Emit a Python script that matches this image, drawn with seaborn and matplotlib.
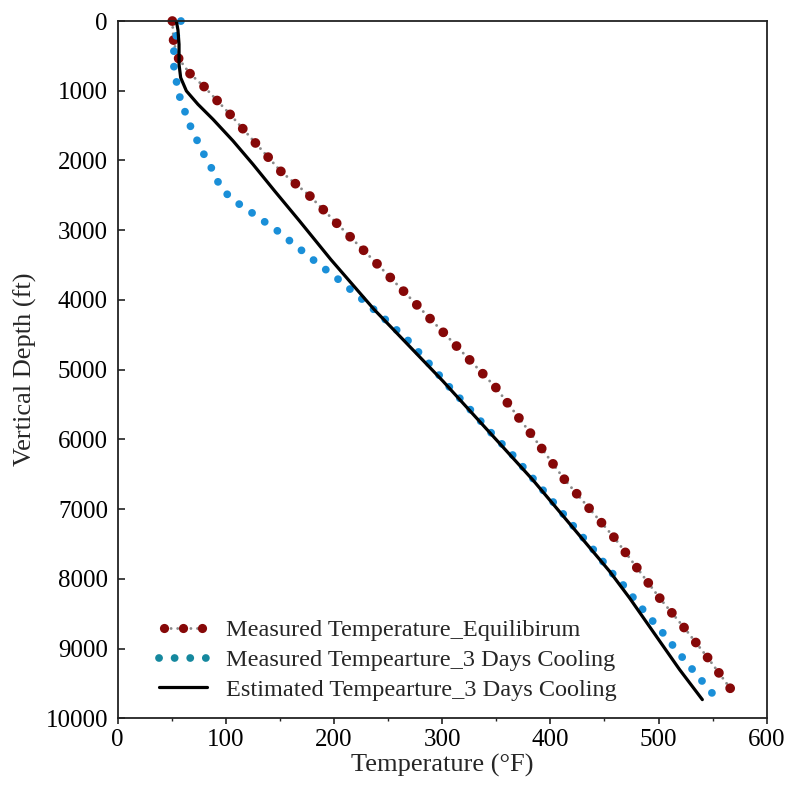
import matplotlib
matplotlib.use("Agg")
import matplotlib.pyplot as plt
import seaborn as sns
import numpy as np
import pandas as pd
from matplotlib.lines import Line2D
from matplotlib.legend_handler import HandlerLine2D

# ---------------- data ----------------
eq_depth = [0, 306, 540, 750, 940, 1337, 1752, 2159, 2500, 2884, 3472, 4064,
            4658, 5050, 5253, 5907, 6576, 7413, 7847, 8285, 8706, 9145, 9575]
eq_temp = [50.5, 51.8, 56.4, 66.5, 79.8, 103.8, 127.5, 151.0, 177.0, 201.4, 239.1, 276.1,
           313.0, 337.0, 349.4, 381.4, 413.1, 459.3, 480.3, 501.5, 524.0, 546.2, 566.5]

cool_depth = [0, 225, 449, 669, 883, 1103, 1313, 1519, 1719, 1924, 2116, 2316, 2488,
              2627, 2755, 2880, 3009, 3152, 3429, 3706, 3988, 4285, 4581, 4916, 5251,
              5577, 5906, 6227, 6566, 6901, 7241, 7580, 7929, 8082, 8441, 8776, 9135, 9640]
cool_temp = [58.5, 53.9, 51.8, 52.0, 54.5, 57.6, 62.5, 67.5, 73.6, 80.1, 86.9, 93.0, 101.4,
             112.4, 124.5, 135.9, 147.6, 159.0, 181.1, 204.0, 225.8, 247.7, 268.3, 288.1, 306.8,
             326.2, 345.3, 365.3, 384.2, 402.7, 421.2, 439.7, 457.8, 467.0, 485.5, 504.0, 522.5, 549.6]

est_depth = [0, 129, 334, 621, 812, 1003, 1195, 1410, 1719, 2054, 2436, 2866, 3420,
             4136, 5165, 5690, 6585, 7891, 8274, 8752, 9300, 9732]
est_temp = [54.2, 55.7, 56.7, 56.7, 58.2, 63.5, 74.2, 88.1, 106.6, 125.0, 145.0, 168.0, 197.0,
            237.0, 300.7, 331.5, 384.0, 454.7, 473.2, 494.7, 519.4, 540.5]

labels = ["Measured Temperature_Equilibirum",
          "Measured Tempearture_3 Days Cooling",
          "Estimated Tempearture_3 Days Cooling"]
x_ticks = [0, 100, 200, 300, 400, 500, 600]
y_ticks = [0, 1000, 2000, 3000, 4000, 5000, 6000, 7000, 8000, 9000, 10000]

# ---------------- style ----------------
sns.set_style("ticks")
plt.rcParams["font.family"] = ["Liberation Serif", "DejaVu Serif"]
plt.rcParams["mathtext.fontset"] = "stix"

RED = "#860808"
GRAY = "#8a8a8a"
BLUE = "#1a8fd8"
BLUE_LEG = "#15889e"
DPI = 100

fig = plt.figure(figsize=(7.9, 7.86), dpi=DPI)
ax = fig.add_axes([0.14899, 0.08613, 0.82152, 0.88715])

df_eq = pd.DataFrame({"T": eq_temp, "D": eq_depth})
df_cool = pd.DataFrame({"T": cool_temp, "D": cool_depth})
df_est = pd.DataFrame({"T": est_temp, "D": est_depth})

sns.lineplot(data=df_eq, x="T", y="D", sort=False, estimator=None, ax=ax, color=GRAY)
l_gray = ax.lines[-1]
sns.lineplot(data=df_eq, x="T", y="D", sort=False, estimator=None, ax=ax, color=RED)
l_red = ax.lines[-1]
sns.lineplot(data=df_cool, x="T", y="D", sort=False, estimator=None, ax=ax, color=BLUE)
l_blue = ax.lines[-1]
sns.lineplot(data=df_est, x="T", y="D", sort=False, estimator=None, ax=ax, color="black")
l_black = ax.lines[-1]

ax.set_xlim(0, 600)
ax.set_ylim(10000, 0)

# (linewidth pt, target dot spacing px)
styles = {
    "gray": (2.1, 6.4),
    "red": (7.0, 19.2),
    "blue": (5.6, 15.6),
}

def fitted_gap(line, lw, spacing):
    """dash gap (in linewidths) so that dots fall on both ends of the path"""
    pts = ax.transData.transform(np.column_stack(line.get_data()))
    L = np.sum(np.hypot(*np.diff(pts, axis=0).T))
    n = max(1, round(L / spacing))
    s = L / (n + 0.03)
    return s / (lw * DPI / 72.0) - 0.01

for ln, key in ((l_gray, "gray"), (l_red, "red"), (l_blue, "blue")):
    lw, spacing = styles[key]
    gap = fitted_gap(ln, lw, spacing)
    ln.set_linestyle((0, (0.01, gap)))
    ln.set_linewidth(lw)
    ln.set_dash_capstyle("round")
    ln.set_clip_on(False)
l_black.set_linestyle("-")
l_black.set_linewidth(2.3)

ax.set_xticks(x_ticks)
ax.set_xticklabels([str(v) for v in x_ticks])
ax.set_xticks([50, 150, 250, 350, 450, 550], minor=True)
ax.set_yticks(y_ticks)
ax.set_yticklabels([str(v) for v in y_ticks])

for s in ax.spines.values():
    s.set_visible(True)
    s.set_linewidth(1.3)
    s.set_color("#222222")

ax.tick_params(axis="x", which="major", direction="out", length=4, width=1.2,
               labelsize=18, pad=4, colors="#222222", labelcolor="black")
ax.tick_params(axis="x", which="minor", direction="out", length=2.5, width=1.0,
               colors="#222222")
ax.tick_params(axis="y", which="major", direction="in", length=5, width=1.2,
               labelsize=18, pad=7, colors="#222222", labelcolor="black")

ax.set_xlabel("Temperature (°F)", fontsize=19, labelpad=2)
ax.set_ylabel("Vertical Depth (ft)", fontsize=19, labelpad=6)

# legend proxies
def leg_dotted(color, lw, spacing_px):
    return Line2D([], [], color=color, linewidth=lw,
                  linestyle=(0, (0.01, spacing_px / (lw * DPI / 72.0) - 0.01)),
                  dash_capstyle="round")

h_red = leg_dotted(GRAY, 2.1, 6.6)
h_red.set_marker("o")
h_red.set_markersize(6.6)
h_red.set_markerfacecolor(RED)
h_red.set_markeredgecolor(RED)
h_red.set_markeredgewidth(0)
h_blue = leg_dotted(BLUE_LEG, 5.6, 15.6)
h_black = Line2D([], [], color="black", linewidth=2.3)

leg = ax.legend([h_red, h_blue, h_black], labels, numpoints=1,
                handler_map={h_red: HandlerLine2D(numpoints=3, marker_pad=0.2)},
                loc="lower left", bbox_to_anchor=(0.064, 0.025),
                frameon=False, fontsize=17.5, handlelength=1.95,
                handletextpad=0.78, labelspacing=0.32, borderpad=0,
                borderaxespad=0)

fig.savefig("out.png", dpi=DPI)
